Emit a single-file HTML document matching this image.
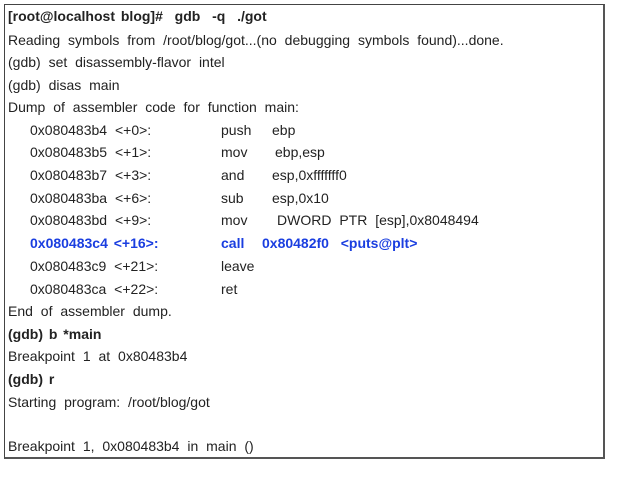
<!DOCTYPE html>
<html><head><style>
body{margin:0;background:#fff;width:627px;height:486px;overflow:hidden;font-family:"Liberation Sans","Noto Sans CJK KR",sans-serif;font-size:14px;word-spacing:4px;color:#222}
.box{position:absolute;left:4px;top:4px;width:598px;height:452px;border:1px solid #444;border-right:2px solid #555;border-bottom:2px solid #555}
.l{position:absolute;left:8px;height:20px;line-height:20px;white-space:nowrap}
.a{left:30px}.i{left:221px}
.b{font-weight:bold;word-spacing:2px}.bl{color:#1a3ee0;font-weight:bold;word-spacing:2px}
</style></head><body>
<div class="box"></div>
<div class="l b" style="top:6px">[root@localhost blog]# &nbsp;gdb &nbsp;-q &nbsp;./got</div>
<div class="l" style="top:30px">Reading symbols from /root/blog/got...(no debugging symbols found)...done.</div>
<div class="l" style="top:52px">(gdb) set disassembly-flavor intel</div>
<div class="l" style="top:75px">(gdb) disas main</div>
<div class="l" style="top:97px">Dump of assembler code for function main:</div>
<div class="l a" style="top:120px">0x080483b4 &lt;+0&gt;:</div><div class="l i" style="top:120px">push</div><div class="l" style="left:272px;top:120px">ebp</div>
<div class="l a" style="top:142px">0x080483b5 &lt;+1&gt;:</div><div class="l i" style="top:142px">mov</div><div class="l" style="left:275px;top:142px">ebp,esp</div>
<div class="l a" style="top:165px">0x080483b7 &lt;+3&gt;:</div><div class="l i" style="top:165px">and</div><div class="l" style="left:272px;top:165px">esp,0xfffffff0</div>
<div class="l a" style="top:188px">0x080483ba &lt;+6&gt;:</div><div class="l i" style="top:188px">sub</div><div class="l" style="left:272px;top:188px">esp,0x10</div>
<div class="l a" style="top:210px">0x080483bd &lt;+9&gt;:</div><div class="l i" style="top:210px">mov</div><div class="l" style="left:277px;top:210px">DWORD PTR [esp],0x8048494</div>
<div class="l a bl" style="top:233px">0x080483c4 &lt;+16&gt;:</div><div class="l i bl" style="top:233px">call</div><div class="l bl" style="left:262px;top:233px">0x80482f0 &nbsp;&lt;puts@plt&gt;</div>
<div class="l a" style="top:256px">0x080483c9 &lt;+21&gt;:</div><div class="l i" style="top:256px">leave</div>
<div class="l a" style="top:279px">0x080483ca &lt;+22&gt;:</div><div class="l i" style="top:279px">ret</div>
<div class="l" style="top:301px">End of assembler dump.</div>
<div class="l b" style="top:324px">(gdb) b *main</div>
<div class="l" style="top:346px">Breakpoint 1 at 0x80483b4</div>
<div class="l b" style="top:369px">(gdb) r</div>
<div class="l" style="top:392px">Starting program: /root/blog/got</div>
<div class="l" style="top:436px">Breakpoint 1, 0x080483b4 in main ()</div>
</body></html>
